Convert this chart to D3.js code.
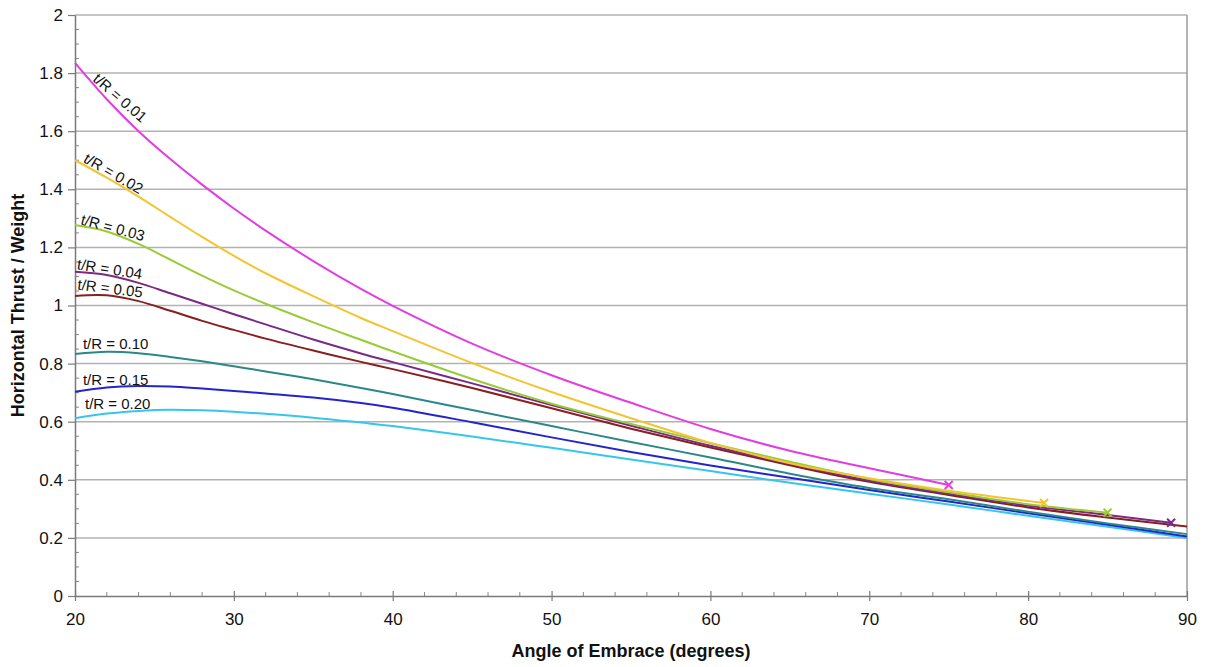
<!DOCTYPE html>
<html>
<head>
<meta charset="utf-8">
<script src="https://cdn.jsdelivr.net/npm/d3@7"></script>
<style>
  body { margin: 0; background: #fff; }
  text { font-family: "Liberation Sans", Arial, sans-serif; }
</style>
</head>
<body>
<div id="chart"></div>
<script>
// angle grid shared by all series (degrees)
const angles = [20, 22, 24, 26, 28, 30, 32, 35, 38, 40, 45, 50, 55, 60, 65, 70, 75, 80, 85, 90];

// horizontal thrust / weight, one array per t/R ratio (null = series has ended)
const thrust001 = [1.835, 1.71, 1.60, 1.504, 1.416, 1.334, 1.258, 1.153, 1.057, 0.999, 0.869, 0.76, 0.665, 0.575, 0.50, 0.44, 0.382, null, null, null];
const thrust002 = [1.50, 1.44, 1.375, 1.305, 1.236, 1.171, 1.111, 1.032, 0.957, 0.912, 0.802, 0.702, 0.612, 0.527, 0.457, 0.405, 0.362, 0.327, null, null];
const thrust003 = [1.277, 1.255, 1.212, 1.158, 1.103, 1.052, 1.006, 0.942, 0.882, 0.842, 0.747, 0.662, 0.592, 0.526, 0.462, 0.403, 0.357, 0.316, 0.287, null];
const thrust004 = [1.116, 1.105, 1.078, 1.042, 1.006, 0.97, 0.935, 0.883, 0.835, 0.805, 0.732, 0.657, 0.586, 0.517, 0.455, 0.397, 0.352, 0.311, 0.279, null];
const thrust005 = [1.033, 1.035, 1.015, 0.982, 0.947, 0.916, 0.886, 0.845, 0.806, 0.781, 0.716, 0.646, 0.576, 0.511, 0.45, 0.393, 0.348, 0.305, 0.27, 0.239];
const thrust010 = [0.833, 0.841, 0.836, 0.823, 0.808, 0.791, 0.773, 0.746, 0.716, 0.695, 0.64, 0.585, 0.53, 0.477, 0.421, 0.372, 0.333, 0.29, 0.25, 0.213];
const thrust015 = [0.703, 0.718, 0.723, 0.721, 0.714, 0.706, 0.697, 0.683, 0.664, 0.648, 0.598, 0.546, 0.496, 0.449, 0.407, 0.365, 0.325, 0.285, 0.245, 0.205];
const thrust020 = [0.612, 0.628, 0.637, 0.641, 0.639, 0.634, 0.627, 0.614, 0.597, 0.585, 0.549, 0.51, 0.47, 0.43, 0.39, 0.352, 0.315, 0.276, 0.238, 0.20];

// end points (marked with an x for the thin arches)
const ratios = ["0.01", "0.02", "0.03", "0.04", "0.05", "0.10", "0.15", "0.20"];
const endAngles = [75, 81, 85, 89, 90, 90, 90, 90];
const endThrust = [0.382, 0.32, 0.287, 0.252, 0.239, 0.213, 0.205, 0.20];
const endMarked = [true, true, true, true, false, false, false, false];

const xTicks = [20, 30, 40, 50, 60, 70, 80, 90];
const yTicks = [0, 0.2, 0.4, 0.6, 0.8, 1, 1.2, 1.4, 1.6, 1.8, 2];

const colors = ["#e23de2", "#f2c530", "#9acb34", "#7a2a86", "#8a1e1e", "#2b8888", "#2424cc", "#34c6ee"];

// label placement: [angle, thrust, rotation]
const labelSpots = [
  [21.07, 1.775, 41], [20.47, 1.495, 30], [20.31, 1.28, 15], [20.1, 1.125, 9],
  [20.13, 1.055, 7], [20.5, 0.85, 0], [20.5, 0.726, 0], [20.63, 0.644, 0]
];

const width = 1205;
const height = 667;
const margin = { top: 15, right: 18, bottom: 71, left: 75 };
const innerW = width - margin.left - margin.right;
const innerH = height - margin.top - margin.bottom;

const allThrust = [thrust001, thrust002, thrust003, thrust004, thrust005, thrust010, thrust015, thrust020];

const series = ratios.map((r, i) => {
  const pts = angles.map((a, j) => ({ a, v: allThrust[i][j] }))
    .filter(d => d.v != null && d.a < endAngles[i]);
  pts.push({ a: endAngles[i], v: endThrust[i] });
  return { ratio: r, points: pts, color: colors[i], marked: endMarked[i], label: labelSpots[i] };
});

const svg = d3.select("#chart")
  .append("svg")
  .attr("width", width)
  .attr("height", height);

const g = svg.append("g")
  .attr("transform", `translate(${margin.left}, ${margin.top})`);

const x = d3.scaleLinear().domain([20, 90]).range([0, innerW]);
const y = d3.scaleLinear().domain([0, 2]).range([innerH, 0]);

// gridlines
g.append("g")
  .selectAll("line")
  .data(yTicks.filter(d => d > 0))
  .join("line")
  .attr("x1", 0)
  .attr("x2", innerW)
  .attr("y1", d => y(d))
  .attr("y2", d => y(d))
  .attr("stroke", "#b2b2b2")
  .attr("stroke-width", 1.5);

// right border
g.append("line")
  .attr("x1", innerW).attr("x2", innerW)
  .attr("y1", 0).attr("y2", innerH)
  .attr("stroke", "#9a9a9a")
  .attr("stroke-width", 1.5);

// minor ticks
g.append("g")
  .selectAll("line")
  .data(d3.range(22, 90, 2).filter(d => d % 10 !== 0))
  .join("line")
  .attr("x1", d => x(d)).attr("x2", d => x(d))
  .attr("y1", innerH).attr("y2", innerH - 4)
  .attr("stroke", "#888")
  .attr("stroke-width", 1);

g.append("g")
  .selectAll("line")
  .data(d3.range(0.05, 2, 0.05).filter(d => Math.abs(d * 5 - Math.round(d * 5)) > 0.01))
  .join("line")
  .attr("x1", 0).attr("x2", 4)
  .attr("y1", d => y(d)).attr("y2", d => y(d))
  .attr("stroke", "#888")
  .attr("stroke-width", 1);

// axes
const xAxis = d3.axisBottom(x)
  .tickValues(xTicks)
  .tickSizeInner(5)
  .tickSizeOuter(0)
  .tickPadding(12)
  .tickFormat(d3.format("d"));

const yAxis = d3.axisLeft(y)
  .tickValues(yTicks)
  .tickSizeInner(7)
  .tickSizeOuter(0)
  .tickPadding(5)
  .tickFormat(d => String(+d.toFixed(1)));

const gx = g.append("g")
  .attr("transform", `translate(0, ${innerH})`)
  .call(xAxis);

gx.selectAll(".tick line").attr("y1", -5);

const gy = g.append("g").call(yAxis);

[gx, gy].forEach(ax => {
  ax.select(".domain").attr("stroke", "#7a7a7a").attr("stroke-width", 1.5);
  ax.selectAll(".tick line").attr("stroke", "#7a7a7a").attr("stroke-width", 1.2);
  ax.selectAll(".tick text")
    .attr("fill", "#111")
    .style("font-size", "17px")
    .style("font-family", "'Liberation Sans', Arial, sans-serif");
});

// curves
const line = d3.line()
  .x(d => x(d.a))
  .y(d => y(d.v))
  .curve(d3.curveCatmullRom.alpha(0.5));

// draw thick arches first so thin ones stay on top
const order = [7, 6, 5, 4, 3, 2, 1, 0];
g.append("g")
  .selectAll("path")
  .data(order.map(i => series[i]))
  .join("path")
  .attr("d", d => line(d.points))
  .attr("fill", "none")
  .attr("stroke", d => d.color)
  .attr("stroke-width", 2);

// end markers
const mk = 4;
const markers = g.append("g")
  .selectAll("g")
  .data(series.filter(d => d.marked))
  .join("g")
  .attr("transform", d => {
    const p = d.points[d.points.length - 1];
    return `translate(${x(p.a)}, ${y(p.v)})`;
  });

markers.append("path")
  .attr("d", `M${-mk},${-mk}L${mk},${mk}M${-mk},${mk}L${mk},${-mk}`)
  .attr("stroke", d => d.color)
  .attr("stroke-width", 2)
  .attr("fill", "none");

// curve labels
g.append("g")
  .selectAll("text")
  .data(series)
  .join("text")
  .attr("transform", d => `translate(${x(d.label[0])}, ${y(d.label[1])}) rotate(${d.label[2]})`)
  .attr("fill", "#111")
  .style("font-size", "15px")
  .text(d => `t/R = ${d.ratio}`);

// axis titles
svg.append("text")
  .attr("x", margin.left + innerW / 2)
  .attr("y", 657)
  .attr("text-anchor", "middle")
  .style("font-size", "18px")
  .style("font-weight", "bold")
  .attr("fill", "#111")
  .text("Angle of Embrace (degrees)");

svg.append("text")
  .attr("transform", `translate(24, ${margin.top + innerH / 2}) rotate(-90)`)
  .attr("text-anchor", "middle")
  .style("font-size", "18px")
  .style("font-weight", "bold")
  .attr("fill", "#111")
  .text("Horizontal Thrust / Weight");
</script>
</body>
</html>
